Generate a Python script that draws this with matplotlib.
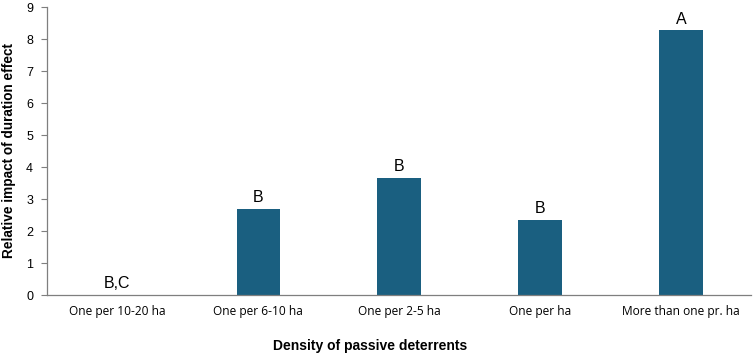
import matplotlib
matplotlib.use("Agg")
import matplotlib.pyplot as plt

categories = ["One per 10-20 ha", "One per 6-10 ha", "One per 2-5 ha", "One per ha", "More than one pr. ha"]
values = [0.0, 2.69, 3.66, 2.34, 8.27]
letters = ["B,C", "B", "B", "B", "A"]

W, H = 755, 355
fig = plt.figure(figsize=(W / 100, H / 100), dpi=100)
ax = fig.add_axes([0.0623, 0.169, 0.933, 0.811])

x = range(len(categories))
ax.bar(x, values, width=0.31, color="#1a5f80")
for xi, v, l in zip(x, values, letters):
    ax.text(xi, v + 0.12, l, ha="center", va="bottom", fontsize=11.5, family="Liberation Sans")

ax.set_xlim(-0.5, len(categories) - 0.5)
ax.set_ylim(0, 9)
ax.set_yticks(range(0, 10))
ax.set_xticks(list(x))
ax.set_xticklabels(categories, fontsize=8.6, family="Open Sans")
for t in ax.get_yticklabels():
    t.set_fontsize(9)
    t.set_family("Liberation Sans")
ax.tick_params(axis="x", length=0, pad=7)
ax.tick_params(axis="y", length=4, color="#7f7f7f", pad=6)
for s in ["top", "right"]:
    ax.spines[s].set_visible(False)
for s in ["left", "bottom"]:
    ax.spines[s].set_color("#7f7f7f")
    ax.spines[s].set_linewidth(0.9)

fig.text(9 / W, 1 - 151 / H, "Relative impact of duration effect", rotation=90,
         ha="center", va="center", fontsize=9.8, fontweight="bold", family="Liberation Sans")
fig.text(370 / W, 1 - 346 / H, "Density of passive deterrents",
         ha="center", va="center", fontsize=10, fontweight="bold", family="Liberation Sans")

fig.savefig("out.png", dpi=100)
